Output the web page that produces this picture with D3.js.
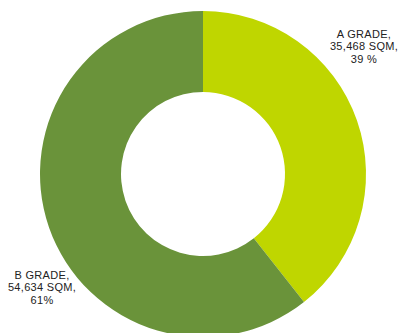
<!DOCTYPE html>
<html>
<head>
<meta charset="utf-8">
<script src="https://cdn.jsdelivr.net/npm/d3@7"></script>
<style>
  body { margin: 0; background: #fff; }
  text { font-family: "Liberation Sans", Arial, sans-serif; }
</style>
</head>
<body>
<div id="drawing_region"></div>
<script>
var categories = ["A GRADE", "B GRADE"];
var values = [35468, 54634];
var colors = ["#bfd600", "#6a933a"];

var width = 399;
var height = 333;
var cx = 203, cy = 174;
var outerR = 163, innerR = 82;

var data = categories.map(function (c, i) { return { name: c, value: values[i] }; });
var total = d3.sum(values);

var svg = d3.select("#drawing_region")
    .append("svg")
    .attr("width", width)
    .attr("height", height);

var g = svg.append("g")
    .attr("transform", "translate(" + cx + "," + cy + ")");

var pie = d3.pie()
    .sort(null)
    .value(function (d) { return d.value; });

var arc = d3.arc()
    .innerRadius(innerR)
    .outerRadius(outerR);

var arcs = pie(data);

g.selectAll("path")
    .data(arcs)
    .enter()
    .append("path")
    .attr("d", arc)
    .attr("fill", function (d, i) { return colors[i]; });

// ラベル位置（中心からのオフセット）
var labelPos = [[161, -136], [-161, 105]];
var fmt = d3.format(",");

var labels = g.selectAll("text.lbl")
    .data(arcs)
    .enter()
    .append("text")
    .attr("class", "lbl")
    .attr("text-anchor", "middle")
    .attr("font-size", "11px")
    .attr("letter-spacing", "0.3px")
    .attr("fill", "#222")
    .attr("transform", function (d, i) { return "translate(" + labelPos[i][0] + "," + labelPos[i][1] + ")"; });

labels.each(function (d, i) {
    var pct = Math.round(d.data.value / total * 100);
    var lines = [d.data.name + ",", fmt(d.data.value) + " SQM,", i === 0 ? pct + " %" : pct + "%"];
    var t = d3.select(this);
    lines.forEach(function (l, j) {
        t.append("tspan")
            .attr("x", 0)
            .attr("y", j * 12.3)
            .text(l);
    });
});
</script>
</body>
</html>
